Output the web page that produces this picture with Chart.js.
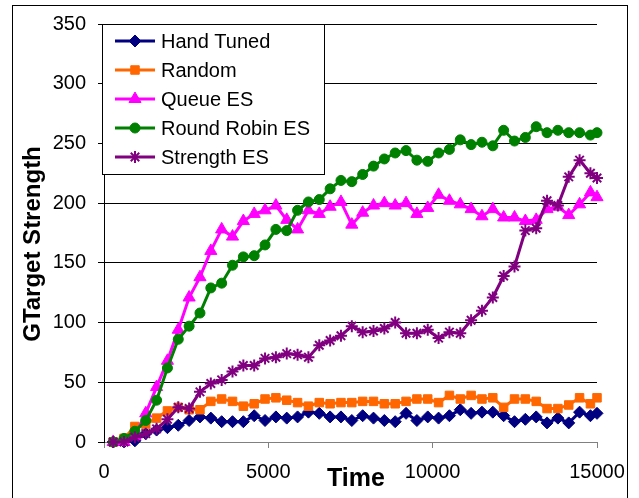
<!DOCTYPE html>
<html>
<head>
<meta charset="utf-8">
<title>GTarget Strength over Time</title>
<script src="https://cdn.jsdelivr.net/npm/chart.js@4.4.0/dist/chart.umd.min.js"></script>
<style>
  body { margin: 0; background: #fff; }
  #chart { display: block; }
</style>
</head>
<body>
<canvas id="chart" width="639" height="498"></canvas>
<script>
// sample times (x) shared by every series
const times = [280, 610, 940, 1270, 1600, 1930, 2260, 2590, 2920, 3250, 3580, 3910, 4240, 4570, 4900,
    5230, 5560, 5890, 6220, 6550, 6880, 7210, 7540, 7870, 8200, 8530, 8860, 9190, 9520, 9850,
    10180, 10510, 10840, 11170, 11500, 11830, 12160, 12490, 12820, 13150, 13480, 13810, 14140, 14470, 14800, 15000];

const handTuned = [0, 0, 1, 7, 10, 12, 14, 18, 21, 20, 17, 17, 17, 22, 18, 21, 20, 21, 25, 24, 21, 21, 18, 22,
    20, 18, 17, 24, 18, 21, 20, 22, 27, 24, 25, 25, 22, 17, 19, 21, 16, 20, 16, 25, 22, 24];
const random = [0, 3, 13, 15, 20, 26, 29, 27, 27, 34, 36, 34, 30, 32, 36, 37, 35, 33, 30, 33, 32, 33, 33, 34,
    34, 32, 32, 34, 36, 36, 33, 39, 36, 39, 36, 37, 29, 36, 36, 34, 28, 28, 31, 37, 32, 37];
const queueES = [0, 0, 5, 24, 46, 68, 94, 121, 138, 160, 178, 172, 185, 191, 194, 198, 186, 178, 194, 191, 197, 201, 182, 192,
    198, 200, 198, 200, 191, 196, 207, 202, 199, 195, 189, 195, 188, 188, 185, 186, 195, 197, 190, 199, 209, 205];
const roundRobinES = [0, 3, 9, 18, 35, 62, 86, 97, 108, 129, 133, 148, 155, 156, 165, 178, 177, 194, 201, 203, 212, 219, 218, 224,
    231, 237, 242, 244, 236, 235, 242, 245, 253, 249, 251, 248, 261, 252, 255, 264, 259, 261, 259, 259, 257, 259];
const strengthES = [0, 0, 4, 7, 11, 19, 29, 28, 42, 49, 52, 59, 64, 64, 70, 71, 74, 73, 71, 81, 85, 89, 97, 92,
    93, 95, 100, 91, 91, 94, 87, 92, 91, 102, 110, 121, 139, 147, 177, 179, 202, 198, 222, 236, 225, 221];

const xTicks = [0, 5000, 10000, 15000];
const yTicks = [0, 50, 100, 150, 200, 250, 300, 350];

Chart.defaults.font.family = "'Liberation Sans', Arial, sans-serif";
Chart.defaults.color = '#000';

function toPoints(values) {
    return values.map(function (v, i) {
        return { x: times[i], y: v }
    })
}

function makeSet(label, values, color, style, radius, order) {
    return {
        label: label,
        data: toPoints(values),
        borderColor: color,
        backgroundColor: color,
        pointBackgroundColor: color,
        pointBorderColor: color,
        pointStyle: style,
        pointRadius: radius,
        pointHoverRadius: radius,
        pointBorderWidth: style === 'star' ? 2 : 1,
        borderWidth: 3,
        tension: 0,
        clip: false,
        order: order
    }
}

// white page + outer frame of the chart
const framePlugin = {
    id: 'frame',
    beforeDraw: function (chart) {
        const ctx = chart.ctx;
        ctx.save();
        ctx.fillStyle = '#fff';
        ctx.fillRect(0, 0, chart.width, chart.height);
        ctx.strokeStyle = '#000';
        ctx.lineWidth = 1;
        ctx.strokeRect(12.5, 5.5, 615, 500);
        ctx.restore();
    }
}

// axis titles and the boxed legend inside the plot
const overlayPlugin = {
    id: 'overlay',
    afterDraw: function (chart) {
        const ctx = chart.ctx;
        ctx.save();
        ctx.fillStyle = '#000';
        ctx.textAlign = 'center';
        ctx.textBaseline = 'middle';
        ctx.font = "bold 24px 'Liberation Sans', Arial, sans-serif";
        ctx.translate(33, 244);
        ctx.rotate(-Math.PI / 2);
        ctx.fillText('GTarget Strength', 0, 0);
        ctx.restore();

        ctx.save();
        ctx.fillStyle = '#000';
        ctx.textAlign = 'center';
        ctx.textBaseline = 'middle';
        ctx.font = "bold 25px 'Liberation Sans', Arial, sans-serif";
        ctx.fillText('Time', 356, 479);
        ctx.restore();

        // legend
        ctx.save();
        ctx.fillStyle = '#fff';
        ctx.fillRect(102.5, 24.5, 222, 150);
        ctx.strokeStyle = '#000';
        ctx.lineWidth = 1;
        ctx.strokeRect(102.5, 24.5, 222, 150);
        chart.data.datasets.forEach(function (ds, i) {
            const y = 41 + i * 29;
            ctx.strokeStyle = ds.borderColor;
            ctx.lineWidth = 3;
            ctx.beginPath();
            ctx.moveTo(115, y);
            ctx.lineTo(155, y);
            ctx.stroke();
            ctx.fillStyle = ds.pointBackgroundColor;
            ctx.strokeStyle = ds.pointBorderColor;
            ctx.lineWidth = ds.pointBorderWidth;
            Chart.helpers.drawPoint(ctx, {
                pointStyle: ds.pointStyle,
                radius: ds.pointRadius,
                rotation: 0,
                borderWidth: ds.pointBorderWidth
            }, 135, y);
            ctx.fillStyle = '#000';
            ctx.textAlign = 'left';
            ctx.textBaseline = 'middle';
            ctx.font = "20px 'Liberation Sans', Arial, sans-serif";
            ctx.fillText(ds.label, 161, y + 1);
        });
        ctx.restore();
    }
}

new Chart(document.getElementById('chart'), {
    type: 'line',
    data: {
        datasets: [
            makeSet('Hand Tuned', handTuned, '#000080', 'rectRot', 6, 5),
            makeSet('Random', random, '#FF6600', 'rect', 6, 4),
            makeSet('Queue ES', queueES, '#FF00FF', 'triangle', 7, 3),
            makeSet('Round Robin ES', roundRobinES, '#008000', 'circle', 5, 2),
            makeSet('Strength ES', strengthES, '#800080', 'star', 6, 1)
        ]
    },
    options: {
        responsive: false,
        animation: false,
        layout: {
            padding: { left: 0, top: 22, right: 42, bottom: 0 }
        },
        plugins: {
            legend: { display: false },
            tooltip: { enabled: false }
        },
        scales: {
            x: {
                type: 'linear',
                min: 0,
                max: 15000,
                afterBuildTicks: function (axis) {
                    axis.ticks = xTicks.map(function (v) { return { value: v } })
                },
                afterFit: function (scale) {
                    scale.height = 56
                },
                ticks: {
                    font: { size: 20 },
                    color: '#000',
                    padding: 12,
                    maxRotation: 0,
                    callback: function (value) { return String(value) }
                },
                grid: {
                    drawOnChartArea: false,
                    drawTicks: true,
                    tickLength: 6,
                    color: '#808080'
                },
                border: { color: '#808080', width: 1 }
            },
            y: {
                min: 0,
                max: 350,
                afterBuildTicks: function (axis) {
                    axis.ticks = yTicks.map(function (v) { return { value: v } })
                },
                afterFit: function (scale) {
                    scale.width = 104
                },
                ticks: {
                    font: { size: 20 },
                    color: '#000',
                    padding: 12,
                    callback: function (value) { return String(value) }
                },
                grid: {
                    color: '#000',
                    lineWidth: 1,
                    tickLength: 6
                },
                border: { color: '#000', width: 1 }
            }
        }
    },
    plugins: [framePlugin, overlayPlugin]
});
</script>
</body>
</html>
